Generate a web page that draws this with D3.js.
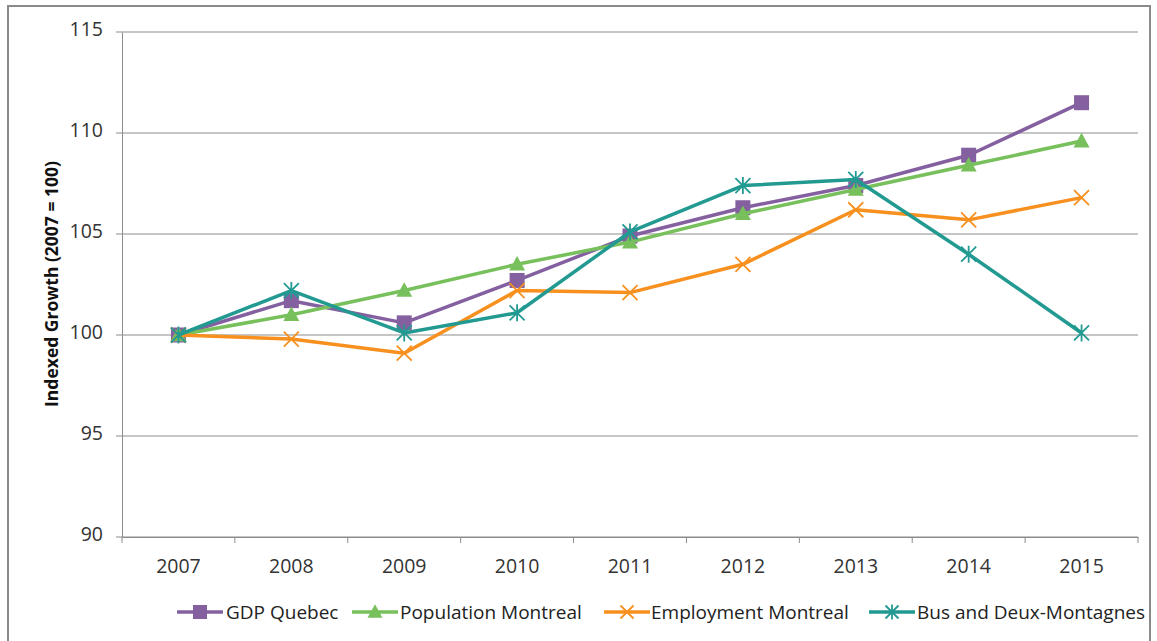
<!DOCTYPE html>
<html><head><meta charset="utf-8">
<script src="https://cdn.jsdelivr.net/npm/d3@7"></script>
<style>body{margin:0;background:#fff;} svg{display:block;font-family:"Open Sans",sans-serif;}</style>
</head><body>
<svg id="chart" width="1157" height="641"></svg>
<script>
const years = ["2007","2008","2009","2010","2011","2012","2013","2014","2015"];
const gdpQuebec = [100, 101.7, 100.6, 102.7, 104.9, 106.3, 107.4, 108.9, 111.5];
const populationMontreal = [100, 101.0, 102.2, 103.5, 104.6, 106.0, 107.2, 108.4, 109.6];
const employmentMontreal = [100, 99.8, 99.1, 102.2, 102.1, 103.5, 106.2, 105.7, 106.8];
const busDeuxMontagnes = [100, 102.2, 100.1, 101.1, 105.1, 107.4, 107.7, 104.0, 100.1];
const yTicks = [90, 95, 100, 105, 110, 115];
const seriesNames = ["GDP Quebec","Population Montreal","Employment Montreal","Bus and Deux-Montagnes"];

const series = [
  {name: seriesNames[0], values: gdpQuebec, color: "#8560A0", marker: "square"},
  {name: seriesNames[1], values: populationMontreal, color: "#77C05C", marker: "triangle"},
  {name: seriesNames[2], values: employmentMontreal, color: "#F7901E", marker: "x"},
  {name: seriesNames[3], values: busDeuxMontagnes, color: "#229A92", marker: "star"}
];

const svg = d3.select("#chart");
svg.append("rect").attr("x",8).attr("y",6).attr("width",1142).attr("height",645)
  .attr("fill","none").attr("stroke","#8a8a8a").attr("stroke-width",2);

const pLeft = 122, pRight = 1138, pTop = 32, pBottom = 537;
const x = d3.scaleBand().domain(years).range([pLeft, pRight]);
const y = d3.scaleLinear().domain([90,115]).range([pBottom, pTop]);

svg.append("g").selectAll("line").data(yTicks).join("line")
  .attr("x1", pLeft-6).attr("x2", pRight)
  .attr("y1", d=>y(d)).attr("y2", d=>y(d))
  .attr("stroke","#8c8c8c").attr("stroke-width",1);

const yAxis = svg.append("g").attr("transform",`translate(${pLeft},0)`)
  .call(d3.axisLeft(y).tickValues(yTicks).tickSize(0).tickPadding(19));
yAxis.select(".domain").attr("stroke","#8c8c8c");
yAxis.selectAll("text").attr("font-size",19.5).attr("fill","#333").attr("font-family","Open Sans, sans-serif").attr("dy","0.2em");

const xAxis = svg.append("g").attr("transform",`translate(0,${pBottom})`)
  .call(d3.axisBottom(x).tickSize(0).tickPadding(22));
xAxis.select(".domain").attr("stroke","#8c8c8c");
xAxis.selectAll("text").attr("font-size",19.5).attr("fill","#333").attr("font-family","Open Sans, sans-serif");
xAxis.append("g").selectAll("line").data(d3.range(years.length+1)).join("line")
  .attr("x1", i=> pLeft + i*x.step()).attr("x2", i=> pLeft + i*x.step())
  .attr("y1",0).attr("y2",6).attr("stroke","#8c8c8c");

svg.append("text").attr("transform","translate(58,284) rotate(-90)")
  .attr("text-anchor","middle").attr("font-weight","bold").attr("font-size",17.5)
  .attr("fill","#111").text("Indexed Growth (2007 = 100)");

function drawMarker(g, type, cx, cy, color, s) {
  if (type==="square") {
    g.append("rect").attr("x",cx-s/2).attr("y",cy-s/2).attr("width",s).attr("height",s).attr("fill",color);
  } else if (type==="triangle") {
    const h = s*1.0;
    g.append("path").attr("d",`M${cx},${cy-h*0.6}L${cx+s/2+1},${cy+h*0.45}L${cx-s/2-1},${cy+h*0.45}Z`).attr("fill",color);
  } else if (type==="x") {
    const r = s/2;
    g.append("path").attr("d",`M${cx-r},${cy-r}L${cx+r},${cy+r}M${cx-r},${cy+r}L${cx+r},${cy-r}`)
      .attr("stroke",color).attr("stroke-width",1.8).attr("fill","none");
  } else {
    const r = s/2;
    g.append("path").attr("d",`M${cx-r},${cy-r}L${cx+r},${cy+r}M${cx-r},${cy+r}L${cx+r},${cy-r}M${cx},${cy-r-1}L${cx},${cy+r+1}`)
      .attr("stroke",color).attr("stroke-width",1.8).attr("fill","none");
  }
}

const line = d3.line().x((d,i)=>x(years[i])+x.bandwidth()/2).y(d=>y(d));
series.forEach(s=>{
  const g = svg.append("g");
  g.append("path").datum(s.values).attr("d",line).attr("fill","none")
    .attr("stroke",s.color).attr("stroke-width",3.5).attr("stroke-linejoin","round");
  s.values.forEach((v,i)=> drawMarker(g, s.marker, x(years[i])+x.bandwidth()/2, y(v), s.color, s.marker==="square"?15:(s.marker==="triangle"?14:15)));
});

const legendPos = [{mx:200, tx:226},{mx:375, tx:400},{mx:627, tx:651},{mx:892, tx:917}];
const ly = 612;
series.forEach((s,i)=>{
  const g = svg.append("g");
  const p = legendPos[i];
  g.append("line").attr("x1",p.mx-23).attr("x2",p.mx+23).attr("y1",ly).attr("y2",ly)
    .attr("stroke",s.color).attr("stroke-width",3.5);
  drawMarker(g, s.marker, p.mx, ly, s.color, s.marker==="square"?14:13);
  g.append("text").attr("x",p.tx).attr("y",ly).attr("dy","0.35em").attr("font-size",19)
    .attr("fill","#222").text(s.name);
});
</script>
</body></html>
